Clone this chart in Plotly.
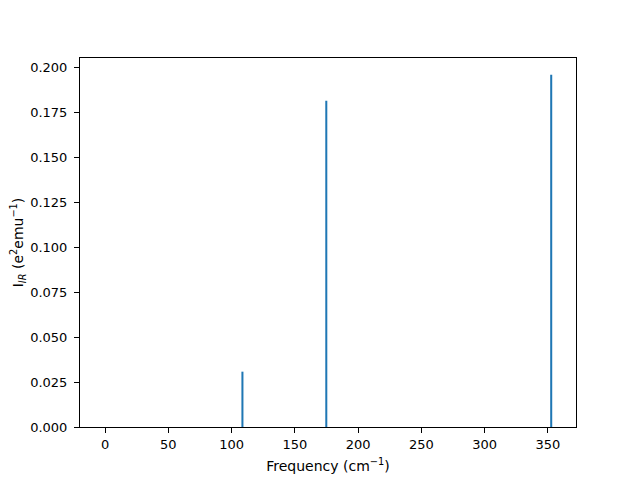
import plotly.graph_objects as go

freqs = [108.6, 174.9, 352.7]
intensities = [0.0308, 0.1816, 0.1961]
x_ticks = [0, 50, 100, 150, 200, 250, 300, 350]
y_ticks = [0.0, 0.025, 0.05, 0.075, 0.1, 0.125, 0.15, 0.175, 0.2]

fig = go.Figure()
fig.add_trace(go.Bar(x=freqs, y=intensities, width=[1.6] * len(freqs),
                     marker=dict(color="#1f77b4", line=dict(width=0))))

fig.update_layout(
    width=632, height=472,
    margin=dict(l=72, r=64, t=50, b=53),
    plot_bgcolor="white", paper_bgcolor="white",
    font=dict(family="DejaVu Sans", size=13, color="black"),
    showlegend=False,
)
fig.update_xaxes(
    range=[-19.8, 372.3], tickvals=x_ticks, ticks="outside", ticklen=5,
    tickcolor="black", showline=True, linecolor="black", linewidth=1.1,
    mirror=True, showgrid=False, zeroline=False, automargin=False,
    tickfont=dict(size=13),
    title=dict(text="Frequency (cm<sup>−1</sup>)", standoff=10, font=dict(size=14)),
)
fig.update_yaxes(
    range=[0, 0.2054], tickvals=y_ticks, tickformat=".3f", ticks="outside",
    ticklen=5, tickcolor="black", showline=True, linecolor="black",
    linewidth=1.1, mirror=True, showgrid=False, zeroline=False, automargin=False,
    tickfont=dict(size=13), ticklabelstandoff=4,
    title=dict(text="I<sub><i>IR</i></sub> (e<sup>2</sup>emu<sup>−1</sup>)", standoff=12, font=dict(size=14)),
)
fig.write_html("out.html")
